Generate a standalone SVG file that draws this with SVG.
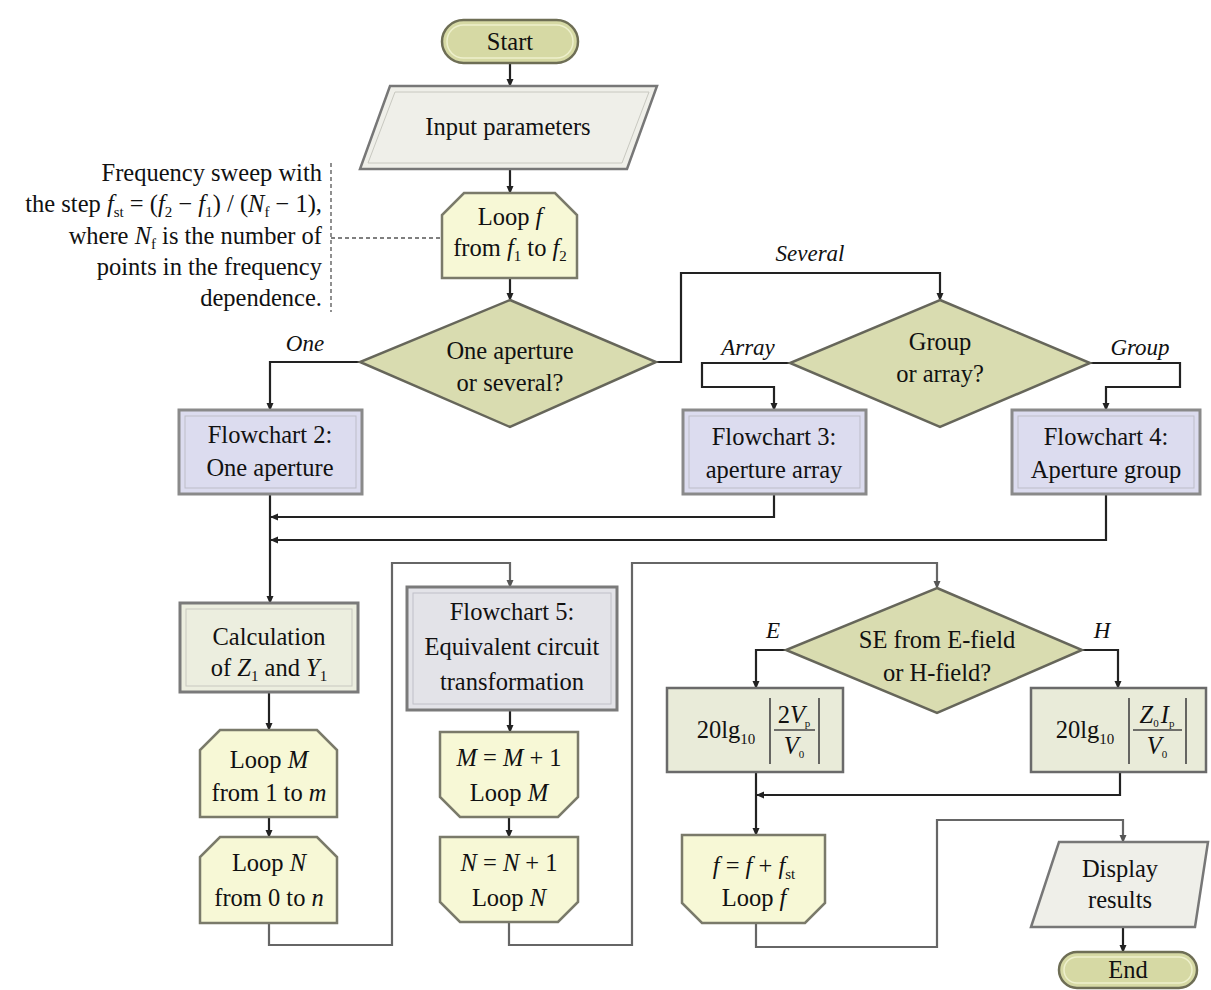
<svg xmlns="http://www.w3.org/2000/svg" width="1211" height="990" viewBox="0 0 1211 990">
<defs>
<marker id="arr" markerWidth="8" markerHeight="8" refX="7" refY="4" orient="auto" markerUnits="userSpaceOnUse">
<path d="M0,0.5 L8,4 L0,7.5 z" fill="#222"/>
</marker>
<marker id="arrg" markerWidth="8" markerHeight="8" refX="7" refY="4" orient="auto" markerUnits="userSpaceOnUse">
<path d="M0,0.5 L8,4 L0,7.5 z" fill="#555"/>
</marker>
</defs>
<style>
text{font-family:"Liberation Serif","Times New Roman",serif;font-size:24.5px;fill:#111;text-anchor:middle}
.it{font-style:italic;font-size:23px}
.ann{text-anchor:end;font-size:24.5px}
.s{font-size:15px}
.term{fill:#d6d9a4;stroke:#6e6e55;stroke-width:2.5}
.termin{fill:none;stroke:#eef0cc;stroke-width:1.5}
.io{fill:#efefe9;stroke:#777;stroke-width:2.5}
.loop{fill:#f7f8d6;stroke:#7a7a6a;stroke-width:2.5}
.dec{fill:#d9dcb0;stroke:#66665a;stroke-width:2.5}
.sub{fill:#dcdcef;stroke:#8a8a8a;stroke-width:3}
.subin{fill:none;stroke:#bdbdc8;stroke-width:1}
.calc{fill:#eceedf;stroke:#7a7a7a;stroke-width:3}
.calcin{fill:none;stroke:#c8c8c0;stroke-width:1}
.form{fill:#e9ebd9;stroke:#6a6a6a;stroke-width:2.5}
.c{fill:none;stroke:#222;stroke-width:2.2}
.cg{fill:none;stroke:#666;stroke-width:2.2}
.dash{fill:none;stroke:#555;stroke-width:1.3;stroke-dasharray:4 3}
.ln{stroke:#444;stroke-width:1.6;fill:none}
</style>

<g id="connectors">
<path class="c" d="M510,63 V86" marker-end="url(#arr)"/>
<path class="c" d="M510,169 V193" marker-end="url(#arr)"/>
<path class="c" d="M510,278 V300" marker-end="url(#arr)"/>
<path class="c" d="M360,362 H270 V410" marker-end="url(#arr)"/>
<path class="c" d="M656,362 H681 V273 H940 V300" marker-end="url(#arr)"/>
<path class="c" d="M790,363 H702 V387 H774 V410" marker-end="url(#arr)"/>
<path class="c" d="M1090,363 H1180 V387 H1106 V410" marker-end="url(#arr)"/>
<path class="c" d="M270,494 V603" marker-end="url(#arr)"/>
<path class="c" d="M774,494 V517 H271" marker-end="url(#arr)"/>
<path class="c" d="M1106,494 V540 H271" marker-end="url(#arr)"/>
<path class="c" d="M269,692 V730" marker-end="url(#arr)"/>
<path class="c" d="M269,817 V837" marker-end="url(#arr)"/>
<path class="cg" d="M269,923 V945 H392 V563 H510 V587" marker-end="url(#arrg)"/>
<path class="c" d="M510,710 V732" marker-end="url(#arr)"/>
<path class="c" d="M509,817 V837" marker-end="url(#arr)"/>
<path class="cg" d="M509,922 V945 H632 V563 H937 V588" marker-end="url(#arrg)"/>
<path class="c" d="M786,650 H756 V688" marker-end="url(#arr)"/>
<path class="c" d="M1082,650 H1118 V688" marker-end="url(#arr)"/>
<path class="c" d="M756,772 V835" marker-end="url(#arr)"/>
<path class="c" d="M1120,772 V795 H757" marker-end="url(#arr)"/>
<path class="cg" d="M756,923 V947 H937 V820 H1123 V842" marker-end="url(#arrg)"/>
<path class="c" d="M1123,927 V952" marker-end="url(#arr)"/>
<path class="dash" d="M331,163 V312"/>
<path class="dash" d="M331,238 H442"/>
<text class="it" x="305" y="351">One</text>
<text class="it" x="810" y="261">Several</text>
<text class="it" x="748" y="355">Array</text>
<text class="it" x="1140" y="355">Group</text>
<text class="it" x="773" y="638">E</text>
<text class="it" x="1102" y="638">H</text>
</g>

<g id="annotation">
<text class="ann" x="322" y="181">Frequency sweep with</text>
<text class="ann" x="322" y="212">the step <tspan font-style="italic">f</tspan><tspan class="s" dy="5">st</tspan><tspan dy="-5"> = (</tspan><tspan font-style="italic">f</tspan><tspan class="s" dy="5">2</tspan><tspan dy="-5"> − </tspan><tspan font-style="italic">f</tspan><tspan class="s" dy="5">1</tspan><tspan dy="-5">) / (</tspan><tspan font-style="italic">N</tspan><tspan class="s" dy="5">f</tspan><tspan dy="-5"> − 1),</tspan></text>
<text class="ann" x="322" y="244">where <tspan font-style="italic">N</tspan><tspan class="s" dy="5">f</tspan><tspan dy="-5"> is the number of</tspan></text>
<text class="ann" x="322" y="275">points in the frequency</text>
<text class="ann" x="322" y="306">dependence.</text>
</g>

<g id="start">
<rect class="term" x="442" y="20" width="136" height="43" rx="21.5"/>
<rect class="termin" x="447" y="25" width="126" height="33" rx="16.5"/>
<text x="510" y="50">Start</text>
</g>

<g id="input">
<polygon class="io" points="390,86 657,86 627,169 360,169"/>
<polygon fill="none" stroke="#c8c8c0" stroke-width="1" points="395,92 649,92 622,163 368,163"/>
<text x="508" y="135">Input parameters</text>
</g>

<g id="loopf">
<polygon class="loop" points="464,193 555,193 577,215 577,278 442,278 442,215"/>
<text x="510" y="225">Loop <tspan font-style="italic">f</tspan></text>
<text x="510" y="256">from <tspan font-style="italic">f</tspan><tspan class="s" dy="5">1</tspan><tspan dy="-5"> to </tspan><tspan font-style="italic">f</tspan><tspan class="s" dy="5">2</tspan></text>
</g>

<g id="dec1">
<polygon class="dec" points="510,300 656,362 510,427 360,362"/>
<text x="510" y="359">One aperture</text>
<text x="510" y="391">or several?</text>
</g>

<g id="dec2">
<polygon class="dec" points="940,300 1090,363 940,427 790,363"/>
<text x="940" y="350">Group</text>
<text x="940" y="382">or array?</text>
</g>

<g id="fc2">
<rect class="sub" x="179" y="410" width="183" height="84"/>
<rect class="subin" x="185" y="416" width="171" height="72"/>
<text x="270" y="443">Flowchart 2:</text>
<text x="270" y="476">One aperture</text>
</g>

<g id="fc3">
<rect class="sub" x="683" y="410" width="183" height="84"/>
<rect class="subin" x="689" y="416" width="171" height="72"/>
<text x="774" y="445">Flowchart 3:</text>
<text x="774" y="478">aperture array</text>
</g>

<g id="fc4">
<rect class="sub" x="1012" y="410" width="188" height="84"/>
<rect class="subin" x="1018" y="416" width="176" height="72"/>
<text x="1106" y="445">Flowchart 4:</text>
<text x="1106" y="478">Aperture group</text>
</g>

<g id="calc">
<rect class="calc" x="180" y="603" width="178" height="89"/>
<rect class="calcin" x="186" y="609" width="166" height="77"/>
<text x="269" y="645">Calculation</text>
<text x="269" y="676">of <tspan font-style="italic">Z</tspan><tspan class="s" dy="5">1</tspan><tspan dy="-5"> and </tspan><tspan font-style="italic">Y</tspan><tspan class="s" dy="5">1</tspan></text>
</g>

<g id="loopM">
<polygon class="loop" points="220,730 317,730 337,750 337,817 200,817 200,750"/>
<text x="269" y="768">Loop <tspan font-style="italic">M</tspan></text>
<text x="269" y="801">from 1 to <tspan font-style="italic">m</tspan></text>
</g>

<g id="loopN">
<polygon class="loop" points="220,837 317,837 337,857 337,923 200,923 200,857"/>
<text x="269" y="871">Loop <tspan font-style="italic">N</tspan></text>
<text x="269" y="906">from 0 to <tspan font-style="italic">n</tspan></text>
</g>

<g id="fc5">
<rect x="407" y="587" width="210" height="123" fill="#e3e3e8" stroke="#7a7a7a" stroke-width="3"/>
<rect x="413" y="593" width="198" height="111" fill="none" stroke="#c0c0c8" stroke-width="1"/>
<text x="512" y="620">Flowchart 5:</text>
<text x="512" y="655">Equivalent circuit</text>
<text x="512" y="690">transformation</text>
</g>

<g id="endM">
<polygon class="loop" points="440,732 578,732 578,797 558,817 460,817 440,797"/>
<text x="509" y="766"><tspan font-style="italic">M</tspan> = <tspan font-style="italic">M</tspan> + 1</text>
<text x="509" y="801">Loop <tspan font-style="italic">M</tspan></text>
</g>

<g id="endN">
<polygon class="loop" points="440,837 578,837 578,902 558,922 460,922 440,902"/>
<text x="509" y="871"><tspan font-style="italic">N</tspan> = <tspan font-style="italic">N</tspan> + 1</text>
<text x="509" y="906">Loop <tspan font-style="italic">N</tspan></text>
</g>

<g id="dec3">
<polygon class="dec" points="937,588 1082,650 937,713 786,650"/>
<text x="937" y="648">SE from E-field</text>
<text x="937" y="681">or H-field?</text>
</g>

<g id="formE">
<rect class="form" x="667" y="688" width="176" height="84"/>
<text x="726" y="738">20lg<tspan class="s" dy="6">10</tspan></text>
<line class="ln" x1="770" y1="698" x2="770" y2="764"/>
<line class="ln" x1="819" y1="698" x2="819" y2="764"/>
<line class="ln" x1="774" y1="730" x2="815" y2="730"/>
<text x="794" y="723" font-size="18">2<tspan font-style="italic">V</tspan><tspan font-size="11" dy="4">p</tspan></text>
<text x="794" y="754" font-size="18"><tspan font-style="italic">V</tspan><tspan font-size="11" dy="4">0</tspan></text>
</g>

<g id="formH">
<rect class="form" x="1031" y="688" width="175" height="84"/>
<text x="1085" y="738">20lg<tspan class="s" dy="6">10</tspan></text>
<line class="ln" x1="1129" y1="698" x2="1129" y2="764"/>
<line class="ln" x1="1186" y1="698" x2="1186" y2="764"/>
<line class="ln" x1="1133" y1="730" x2="1182" y2="730"/>
<text x="1157" y="723" font-size="18"><tspan font-style="italic">Z</tspan><tspan font-size="11" dy="4">0</tspan><tspan font-style="italic" dx="2" dy="-4">I</tspan><tspan font-size="11" dy="4">p</tspan></text>
<text x="1157" y="754" font-size="18"><tspan font-style="italic">V</tspan><tspan font-size="11" dy="4">0</tspan></text>
</g>

<g id="endF">
<polygon class="loop" points="682,835 825,835 825,903 805,923 702,923 682,903"/>
<text x="754" y="874"><tspan font-style="italic">f</tspan> = <tspan font-style="italic">f</tspan> + <tspan font-style="italic">f</tspan><tspan class="s" dy="5">st</tspan></text>
<text x="754" y="906">Loop <tspan font-style="italic">f</tspan></text>
</g>

<g id="display">
<polygon class="io" points="1059,842 1208,842 1195,927 1031,927"/>
<text x="1120" y="877">Display</text>
<text x="1120" y="908">results</text>
</g>

<g id="end">
<rect class="term" x="1059" y="952" width="138" height="36" rx="18"/>
<rect class="termin" x="1064" y="957" width="128" height="26" rx="13"/>
<text x="1128" y="978">End</text>
</g>
</svg>
